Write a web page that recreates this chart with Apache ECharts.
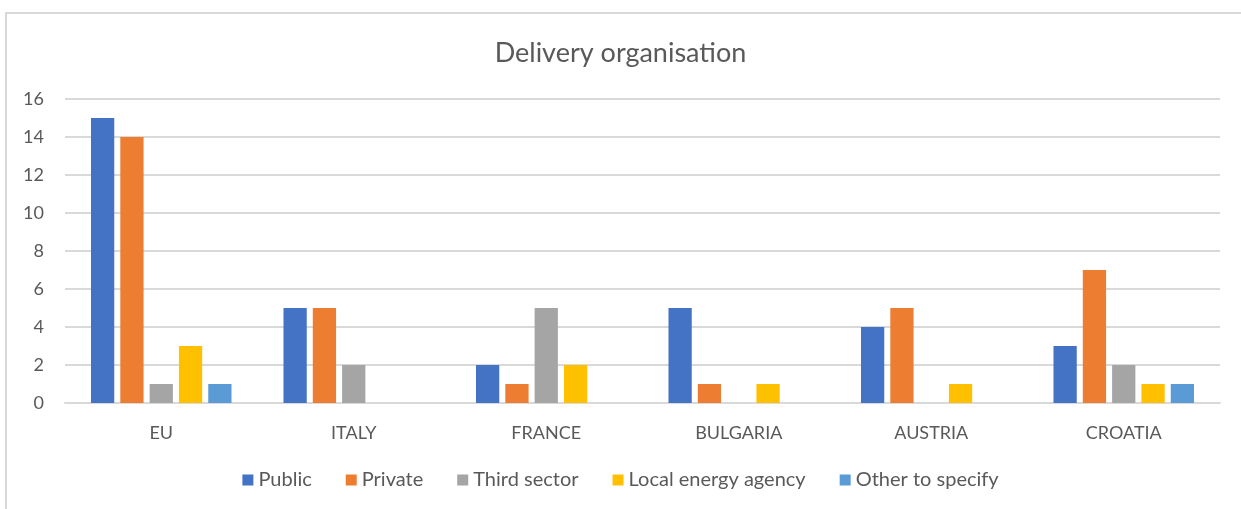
<!DOCTYPE html>
<html>
<head>
<meta charset="utf-8">
<script src="https://cdn.jsdelivr.net/npm/echarts@6/dist/echarts.min.js"></script>
<style>
  html, body { margin: 0; padding: 0; background: #fff; }
  #frame { position: absolute; left: 5px; top: 12px; width: 1250px; height: 520px;
           border-left: 2px solid #d9d9d9; border-top: 2px solid #d9d9d9; }
  #chart { position: absolute; left: 0; top: 0; width: 1241px; height: 509px; }
</style>
</head>
<body>
<div id="frame"></div>
<div id="chart"></div>
<script>
    var categories = ['EU', 'ITALY', 'FRANCE', 'BULGARIA', 'AUSTRIA', 'CROATIA'];
    var seriesNames = ['Public', 'Private', 'Third sector', 'Local energy agency', 'Other to specify'];
    var publicVals = [15, 5, 2, 5, 4, 3];
    var privateVals = [14, 5, 1, 1, 5, 7];
    var thirdSector = [1, 2, 5, 0, 0, 2];
    var localAgency = [3, 0, 2, 1, 1, 1];
    var otherVals = [1, 0, 0, 0, 0, 1];
    var colors = ['#4472C4', '#ED7D31', '#A5A5A5', '#FFC000', '#5B9BD5'];

    var font = 'Lato, "Open Sans", sans-serif';
    var allData = [publicVals, privateVals, thirdSector, localAgency, otherVals];

    var series = [];
    for (var i = 0; i < seriesNames.length; i++) {
        series.push({
            name: seriesNames[i],
            type: 'bar',
            barGap: '26%',
            barCategoryGap: '27%',
            itemStyle: { color: colors[i] },
            data: allData[i]
        });
    }

    var myChart = echarts.init(document.getElementById('chart'));
    myChart.setOption({
        animation: false,
        color: colors,
        title: {
            text: 'Delivery organisation',
            left: 'center',
            top: 35,
            textStyle: { fontFamily: font, fontSize: 27, fontWeight: 'normal', color: '#595959' }
        },
        grid: { left: 65, right: 21, top: 99, bottom: 106 },
        legend: {
            data: seriesNames,
            bottom: 14,
            left: 'center',
            itemWidth: 11,
            itemHeight: 11,
            itemGap: 34,
            icon: 'rect',
            textStyle: { fontFamily: font, fontSize: 20, color: '#595959' }
        },
        xAxis: {
            type: 'category',
            data: categories,
            axisLine: { lineStyle: { color: '#d9d9d9', width: 2 } },
            axisTick: { show: false },
            axisLabel: { fontFamily: font, fontSize: 18, color: '#595959', margin: 21 }
        },
        yAxis: {
            type: 'value',
            min: 0,
            max: 16,
            interval: 2,
            axisLine: { show: false },
            axisTick: { show: false },
            axisLabel: { fontFamily: font, fontSize: 18, color: '#595959', margin: 21 },
            splitLine: { lineStyle: { color: '#d9d9d9', width: 2 } }
        },
        series: series
    });
</script>
</body>
</html>
